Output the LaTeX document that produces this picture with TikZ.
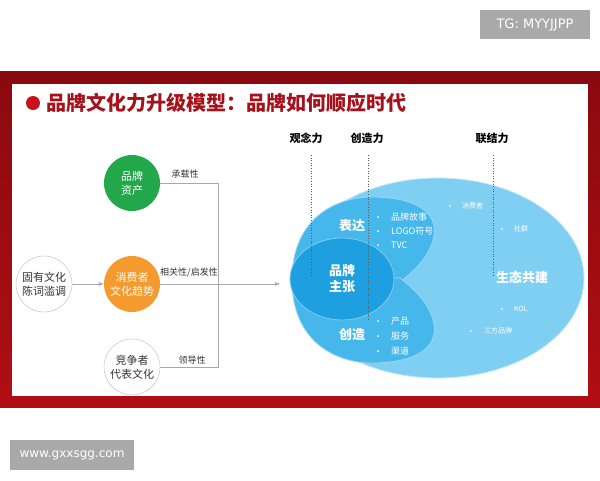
\documentclass[tikz,border=0pt]{standalone}
\usepackage{fontspec}
\setmainfont{Noto Sans CJK SC}
\newfontfamily\latinsans{DejaVu Sans}
\usetikzlibrary{arrows.meta,shapes.geometric}
\definecolor{framered}{HTML}{B00E14}
\definecolor{framedark}{HTML}{8A0A0F}
\definecolor{titlered}{HTML}{A5121C}
\definecolor{bulletred}{HTML}{C8101E}
\definecolor{greenc}{HTML}{22A84A}
\definecolor{orangec}{HTML}{F49A2F}
\definecolor{lightblue}{HTML}{7FCFF3}
\definecolor{midblue}{HTML}{45B7EA}
\definecolor{darkblue}{HTML}{1EA0E0}
\definecolor{linegray}{HTML}{A8A8A8}
\definecolor{txt}{HTML}{333333}
\definecolor{badge}{HTML}{A9A9A9}
\tikzset{
  circ/.style={circle, minimum size=56pt, inner sep=0pt, align=center, font=\fontsize{11}{14}\selectfont},
  plaincirc/.style={circ, draw=linegray!80, fill=white, text=txt},
  lbl/.style={font=\fontsize{9}{11}\selectfont, text=txt, inner sep=0pt},
  conn/.style={draw=linegray, line width=0.6pt},
  head/.style={font=\bfseries\fontsize{11}{13}\selectfont, text=black, inner sep=0pt},
  guide/.style={draw=txt!80, dotted, line width=0.6pt},
  wbig/.style={text=white, font=\bfseries\fontsize{13}{16}\selectfont, align=center, inner sep=0pt},
  item/.style={text=white, font=\fontsize{9}{11}\selectfont, anchor=west, inner sep=0pt},
  smallitem/.style={text=white, font=\fontsize{7}{9}\selectfont, anchor=west, inner sep=0pt},
  wdot/.style={circle, fill=white, inner sep=0pt, minimum size=2pt},
  badgebox/.style={fill=badge, text=white, inner sep=0pt},
  arrowtip/.style={-{Latex[length=5pt,width=4pt]}},
}
\begin{document}
\begin{tikzpicture}[x=1pt,y=-1pt]
\useasboundingbox (0,0) rectangle (600,480);
\fill[white] (0,0) rectangle (600,480);
% badges
\node[badgebox, minimum width=110pt, minimum height=29pt, font=\latinsans\fontsize{13}{15}\selectfont] (tg) at (535,24.5) {TG: MYYJJPP};
\node[badgebox, minimum width=124pt, minimum height=30pt, font=\latinsans\fontsize{12}{14}\selectfont] (www) at (72,455) {www.gxxsgg.com};
% frame
\shade[top color=framedark, bottom color=framered] (0,71) rectangle (600,407);
\fill[white] (12,84) rectangle (588,396);
% title
\fill[bulletred] (33,103) circle[radius=7];
\node[anchor=west, inner sep=0pt, text=titlered, font=\bfseries\fontsize{20}{22}\selectfont] (title) at (46,103) {品牌文化力升级模型：品牌如何顺应时代};
% left part
\node[plaincirc] (old) at (44,284) {固有文化\\陈词滥调};
\node[circ, fill=orangec, text=white] (trend) at (132,284) {消费者\\文化趋势};
\node[circ, fill=greenc, text=white] (asset) at (132,183) {品牌\\资产};
\node[plaincirc] (comp) at (132,367) {竞争者\\代表文化};
\coordinate (jt) at (218,183);
\coordinate (jb) at (218,367);
\coordinate (tip) at (280,284);
\draw[conn] (asset.east) -- (jt) -- (jb) -- (comp.east);
\draw[conn, arrowtip] (old) -- (trend);
\draw[conn, arrowtip] (trend) -- (tip);
\node[lbl] (l1) at (185,174) {承载性};
\node[lbl] (l2) at (189,273) {相关性/启发性};
\node[lbl] (l3) at (192,360) {领导性};
% right part shapes
\fill[lightblue, draw=white!55!lightblue, line width=0.8pt] (438,278) ellipse [x radius=146, y radius=100];
\path[fill=midblue, draw=white!45!midblue, line width=0.8pt] (292,280) .. controls (292,215) and (340,196) .. (375,197) .. controls (420,198) and (440,215) .. (433,240) .. controls (428,258) and (415,270) .. (400,282) -- cycle;
\path[fill=midblue, draw=white!45!midblue, line width=0.8pt] (292,280) .. controls (292,345) and (340,364) .. (375,363) .. controls (420,362) and (440,345) .. (433,320) .. controls (428,302) and (415,290) .. (400,278) -- cycle;
\node[ellipse, minimum width=104pt, minimum height=82pt, inner sep=0pt, fill=darkblue, draw=white!45!darkblue, line width=0.8pt, text=white, align=center, font=\bfseries\fontsize{13}{16}\selectfont] (core) at (342,279) {品牌\\主张};
\node[wbig] (expr) at (352,226) {表达};
\node[wbig] (crea) at (352,335) {创造};
\node[text=white, font=\bfseries\fontsize{13}{16}\selectfont, inner sep=0pt] (eco) at (522,277) {生态共建};
% bullets
\node[wdot] (d1) at (378,217) {}; \node[item] (t1) at (391,217) {品牌故事};
\node[wdot] (d2) at (378,231) {}; \node[item] (t2) at (391,231) {LOGO符号};
\node[wdot] (d3) at (378,245) {}; \node[item] (t3) at (391,245) {TVC};
\node[wdot] (d4) at (378,321) {}; \node[item] (t4) at (391,321) {产品};
\node[wdot] (d5) at (378,336) {}; \node[item] (t5) at (391,336) {服务};
\node[wdot] (d6) at (378,351) {}; \node[item] (t6) at (391,351) {渠道};
\node[wdot, minimum size=1.6pt] (e1) at (450,206) {}; \node[smallitem] (u1) at (462,206) {消费者};
\node[wdot, minimum size=1.6pt] (e2) at (502,229) {}; \node[smallitem] (u2) at (514,229) {社群};
\node[wdot, minimum size=1.6pt] (e3) at (502,309) {}; \node[smallitem] (u3) at (514,309) {KOL};
\node[wdot, minimum size=1.6pt] (e4) at (471,331) {}; \node[smallitem] (u4) at (484,331) {三方品牌};
% headers and guides
\node[head] (h1) at (306,138) {观念力};
\node[head] (h2) at (367,138) {创造力};
\node[head] (h3) at (492,138) {联结力};
\coordinate (g1a) at (311,155); \coordinate (g1b) at (311,277);
\coordinate (g2a) at (368,155); \coordinate (g2b) at (368,320);
\coordinate (g3a) at (493,155); \coordinate (g3b) at (493,275);
\draw[guide] (g1a) -- (g1b);
\draw[guide] (g2a) -- (g2b);
\draw[guide] (g3a) -- (g3b);
\end{tikzpicture}
\end{document}
